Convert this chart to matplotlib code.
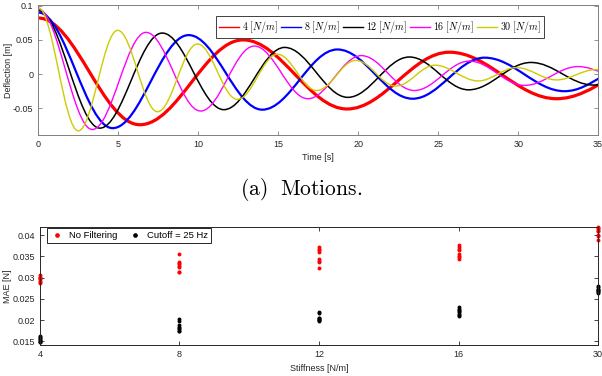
import matplotlib
matplotlib.use('Agg')
import matplotlib.pyplot as plt
from matplotlib.path import Path
from matplotlib.patches import PathPatch
from matplotlib.lines import Line2D
from matplotlib.ticker import FormatStrFormatter

plt.rcParams['font.family'] = ['Liberation Sans', 'DejaVu Sans']
plt.rcParams['mathtext.fontset'] = 'cm'

# ---- (a) motions: extrema (time [s], deflection [m]) ----
stiffness = [4, 8, 12, 16, 30]
colors = ['#ff0000', '#0000ff', '#000000', '#ff00ff', '#cccc00']
widths = [2.3, 1.6, 1.1, 1.0, 1.0]

t_4 = [0.0, 6.35, 12.8, 19.3, 25.7, 32.4, 38.9]
y_4 = [0.082, -0.074, 0.050, -0.051, 0.032, -0.036, 0.022]
t_8 = [0.0, 4.65, 9.4, 14.0, 18.7, 23.4, 27.9, 32.9, 37.5]
y_8 = [0.090, -0.079, 0.057, -0.052, 0.036, -0.036, 0.024, -0.025, 0.017]
t_12 = [0.0, 3.85, 7.75, 11.6, 15.4, 19.35, 23.2, 26.9, 30.8, 34.7, 38.5]
y_12 = [0.093, -0.079, 0.060, -0.052, 0.039, -0.034, 0.025, -0.023, 0.017, -0.016, 0.012]
t_16 = [0.0, 3.38, 6.73, 10.15, 13.5, 16.85, 20.2, 23.5, 26.95, 30.4, 33.75, 37.0]
y_16 = [0.095, -0.081, 0.061, -0.054, 0.041, -0.036, 0.027, -0.024, 0.019, -0.0165, 0.011, -0.010]
t_30 = [0.0, 2.5, 4.96, 7.45, 9.95, 12.45, 14.95, 17.4, 19.85, 22.35, 24.8, 27.5, 29.9, 32.4, 34.85, 37.3]
y_30 = [0.097, -0.083, 0.064, -0.055, 0.044, -0.037, 0.029, -0.024, 0.020, -0.0175, 0.013, -0.010, 0.0095, -0.0085, 0.0065, -0.005]

motion_t = [t_4, t_8, t_12, t_16, t_30]
motion_y = [y_4, y_8, y_12, y_16, y_30]

# ---- (b) MAE per stiffness ----
mae_nofilt = [
    [0.0302, 0.0300, 0.0298, 0.0296, 0.0293, 0.0290, 0.0288, 0.0305],
    [0.0356, 0.0337, 0.0334, 0.0331, 0.0328, 0.0325, 0.0314, 0.0313],
    [0.0372, 0.0368, 0.0364, 0.0361, 0.0345, 0.0340, 0.0337, 0.0323],
    [0.0376, 0.0372, 0.0368, 0.0364, 0.0355, 0.0351, 0.0348, 0.0345],
    [0.0419, 0.0417, 0.0414, 0.0411, 0.0409, 0.0400, 0.0398, 0.0388],
]
mae_cutoff = [
    [0.0163, 0.0160, 0.0157, 0.0153, 0.0150, 0.0148, 0.0155, 0.0147],
    [0.0202, 0.0198, 0.0188, 0.0184, 0.0181, 0.0178, 0.0175, 0.0173],
    [0.0219, 0.0216, 0.0205, 0.0202, 0.0200, 0.0198, 0.0201, 0.0204],
    [0.0231, 0.0227, 0.0224, 0.0221, 0.0218, 0.0215, 0.0212, 0.0210],
    [0.0281, 0.0277, 0.0274, 0.0271, 0.0268, 0.0265, 0.0263, 0.0270],
]


def smooth_path(ts, ys, k=0.3634):
    # cubic bezier between neighbouring extrema, flat tangent at each extremum
    verts = [(ts[0], ys[0])]
    codes = [Path.MOVETO]
    for i in range(len(ts) - 1):
        dt = ts[i + 1] - ts[i]
        verts += [(ts[i] + k * dt, ys[i]), (ts[i + 1] - k * dt, ys[i + 1]), (ts[i + 1], ys[i + 1])]
        codes += [Path.CURVE4] * 3
    return Path(verts, codes)


fig = plt.figure(figsize=(6.02, 3.76), dpi=100)

ax1 = fig.add_axes([0.0636, 0.641, 0.930, 0.3457])
handles = []
for ts, ys, c, w, s in zip(motion_t, motion_y, colors, widths, stiffness):
    patch = PathPatch(smooth_path(ts, ys), facecolor='none', edgecolor=c, lw=w)
    ax1.add_patch(patch)
    handles.append(Line2D([], [], color=c, lw=1.0, label=r'$%d\ [N/m]$' % s))

ax1.set_xlim(0, 35)
ax1.set_ylim(-0.089, 0.101)
ax1.set_xticks([0, 5, 10, 15, 20, 25, 30, 35])
ax1.set_yticks([-0.05, 0, 0.05, 0.1])
ax1.yaxis.set_major_formatter(FormatStrFormatter('%g'))
ax1.set_xlabel('Time [s]', fontsize=6.5, color='#262626', labelpad=3)
ax1.set_ylabel('Deflection [m]', fontsize=6.5, color='#262626', labelpad=0)
ax1.tick_params(direction='in', top=True, right=True, labelsize=6.5,
                colors='#808080', labelcolor='#262626', length=3, width=0.6)
for sp in ax1.spines.values():
    sp.set_color('#808080')
    sp.set_linewidth(0.7)
leg1 = ax1.legend(handles=handles, ncol=5, loc='upper right', bbox_to_anchor=(0.9035, 0.915),
                  borderaxespad=0, fontsize=7.2, fancybox=False, edgecolor='#404040',
                  columnspacing=0.3, handletextpad=0.3, handlelength=2.0,
                  borderpad=0.3, framealpha=1)
leg1.get_frame().set_linewidth(0.7)

fig.text(0.5, 0.497, r'$\mathrm{(a)\ \ Motions.}$', ha='center', va='center', fontsize=15.5)

ax2 = fig.add_axes([0.0664, 0.0824, 0.927, 0.3146])
for i in range(len(stiffness)):
    ax2.plot([i + 1] * len(mae_nofilt[i]), mae_nofilt[i], 'o', color='#ff0000', ms=2.8, mew=0,
             label='No Filtering' if i == 0 else None, clip_on=False)
for i in range(len(stiffness)):
    ax2.plot([i + 1] * len(mae_cutoff[i]), mae_cutoff[i], 'o', color='#000000', ms=2.8, mew=0,
             label='Cutoff = 25 Hz' if i == 0 else None, clip_on=False)

ax2.set_xlim(1, 5)
ax2.set_ylim(0.0141, 0.042)
ax2.set_xticks([1, 2, 3, 4, 5])
ax2.set_xticklabels([str(s) for s in stiffness])
ax2.set_yticks([0.015, 0.02, 0.025, 0.03, 0.035, 0.04])
ax2.yaxis.set_major_formatter(FormatStrFormatter('%g'))
ax2.set_xlabel('Stiffness [N/m]', fontsize=6.5, color='#262626', labelpad=4)
ax2.set_ylabel('MAE [N]', fontsize=6.5, color='#262626', labelpad=0.5)
ax2.tick_params(direction='in', top=True, right=True, labelsize=6.5,
                colors='#262626', length=3, width=0.6)
for sp in ax2.spines.values():
    sp.set_color('#262626')
    sp.set_linewidth(0.7)
leg2 = ax2.legend(ncol=2, loc='upper left', bbox_to_anchor=(0.012, 0.989), borderaxespad=0,
                  fontsize=6.8, fancybox=False, edgecolor='#262626', markerscale=1.2,
                  columnspacing=1.0, handletextpad=0.5, handlelength=1.6,
                  borderpad=0.3, framealpha=1)
leg2.get_frame().set_linewidth(0.7)

fig.savefig('out.png', dpi=100)
